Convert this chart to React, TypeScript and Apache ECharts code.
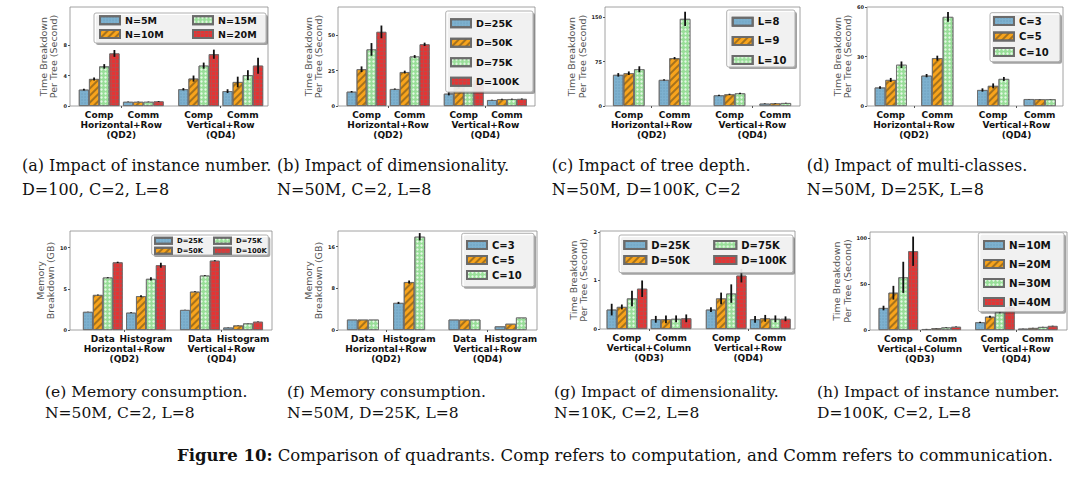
import React, { useEffect, useRef } from "react";
import * as echarts from "echarts";

// ---------------- data ----------------
const BAR_FRAC = 0.23;
const POS4 = [0, 1, 2.25, 3.25];
const POS3 = [0, 1, 2.2, 3.2];

const TIME_NAME = "Time Breakdown\nPer Tree (Second)";
const MEM_NAME = "Memory\nBreakdown (GB)";
const SUB_COMP = ["Comp", "Comm"];
const SUB_DATA = ["Data", "Histogram"];
const GROUPS_HV = ["Horizontal+Row\n(QD2)", "Vertical+Row\n(QD4)"];
const GROUPS_VV = ["Vertical+Column\n(QD3)", "Vertical+Row\n(QD4)"];

// (a)
const A_NAMES = ["N=5M", "N=10M", "N=15M", "N=20M"];
const A_VALUES = [[2.15, 0.55, 2.2, 1.95], [3.55, 0.55, 3.6, 3.15], [5.2, 0.55, 5.3, 4.05], [6.9, 0.6, 6.8, 5.3]];
const A_ERRORS = [[0.12, 0.03, 0.15, 0.25], [0.2, 0.03, 0.4, 0.7], [0.3, 0.03, 0.4, 0.65], [0.45, 0.05, 0.6, 1.05]];
const A_TICKS = [0, 4, 8];
const A_CAPTION = "(a) Impact of instance number.\nD=100, C=2, L=8";
// (b)
const B_NAMES = ["D=25K", "D=50K", "D=75K", "D=100K"];
const B_VALUES = [[10.1, 12, 8.7, 4.2], [26, 24, 13.2, 4.8], [40, 35, 15.6, 4.9], [52.4, 43.6, 18.2, 5.0]];
const B_ERRORS = [[0.5, 0.4, 1.2, 0.2], [2, 1, 1, 0.3], [4.5, 1, 1.5, 0.3], [4.5, 1.2, 1.5, 0.3]];
const B_TICKS = [0, 25, 50];
const B_CAPTION = "(b) Impact of dimensionality.\nN=50M, C=2, L=8";
// (c)
const C_NAMES = ["L=8", "L=9", "L=10"];
const C_VALUES = [[52.5, 44, 18, 4], [55.3, 80.6, 19.7, 4.5], [62, 147, 21.4, 5]];
const C_ERRORS = [[3, 1, 1, 0.5], [3, 2, 1, 0.5], [5, 12, 1, 0.5]];
const C_TICKS = [0, 75, 150];
const C_CAPTION = "(c) Impact of tree depth.\nN=50M, D=100K, C=2";
// (d)
const D_NAMES = ["C=3", "C=5", "C=10"];
const D_VALUES = [[11.2, 18.4, 9.7, 4.2], [15.8, 29, 12.2, 4.1], [25, 54, 16.4, 4.1]];
const D_ERRORS = [[0.8, 1, 1, 0.1], [1.2, 1.5, 1.5, 0.1], [2, 3, 1.2, 0.1]];
const D_TICKS = [0, 30, 60];
const D_CAPTION = "(d) Impact of multi-classes.\nN=50M, D=25K, L=8";
// (e)
const E_NAMES = ["D=25K", "D=50K", "D=75K", "D=100K"];
const E_VALUES = [[2.2, 2.1, 2.43, 0.3], [4.25, 4.1, 4.65, 0.55], [6.36, 6.2, 6.6, 0.8], [8.2, 7.85, 8.4, 1.0]];
const E_ERRORS = [[0.02, 0.05, 0.02, 0.02], [0.05, 0.12, 0.05, 0.02], [0.05, 0.2, 0.05, 0.02], [0.08, 0.3, 0.06, 0.02]];
const E_TICKS = [0, 5, 10];
const E_CAPTION = "(e) Memory consumption.\nN=50M, C=2, L=8";
// (f)
const F_NAMES = ["C=3", "C=5", "C=10"];
const F_VALUES = [[2.0, 5.2, 2.0, 0.7], [2.0, 9.2, 2.0, 1.2], [2.0, 17.9, 2.0, 2.4]];
const F_ERRORS = [[0, 0.2, 0, 0], [0, 0.3, 0, 0], [0, 0.7, 0, 0]];
const F_TICKS = [0, 8, 16];
const F_CAPTION = "(f) Memory consumption.\nN=50M, D=25K, L=8";
// (g)
const G_NAMES = ["D=25K", "D=50K", "D=75K", "D=100K"];
const G_VALUES = [[0.4, 0.2, 0.4, 0.2], [0.455, 0.2, 0.63, 0.22], [0.63, 0.21, 0.73, 0.21], [0.83, 0.22, 1.1, 0.21]];
const G_ERRORS = [[0.12, 0.07, 0.05, 0.07], [0.05, 0.08, 0.12, 0.07], [0.16, 0.07, 0.19, 0.07], [0.17, 0.08, 0.14, 0.05]];
const G_TICKS = [0, 1, 2];
const G_CAPTION = "(g) Impact of dimensionality.\nN=10K, C=2, L=8";
// (h)
const H_NAMES = ["N=10M", "N=20M", "N=30M", "N=40M"];
const H_VALUES = [[24, 1, 8.4, 1.5], [40.7, 2, 14.5, 2.2], [57.5, 2.8, 19.6, 3.3], [86, 3.5, 24.7, 4.4]];
const H_ERRORS = [[2.5, 0.2, 0.7, 0.2], [7.5, 0.2, 1, 0.2], [17, 0.3, 1.3, 0.2], [16, 0.3, 1.5, 0.3]];
const H_TICKS = [0, 50, 100];
const H_CAPTION = "(h) Impact of instance number.\nD=100K, C=2, L=8";

const FIG_CAPTION = "{b|Figure 10:} Comparison of quadrants. Comp refers to computation, and Comm refers to communication.";

// ---------------- layout / styles ----------------
const PANELS: any[] = [
  { key: "a", names: A_NAMES, values: A_VALUES, errors: A_ERRORS, ticks: A_TICKS, pos: POS4, sub: SUB_COMP, groups: GROUPS_HV, yName: TIME_NAME, caption: A_CAPTION,
    L: { grid: [70, 7, 198, 99], xMin: -0.66, xMax: 3.82, yMax: 13, cap: [22, 0],
      lg: { cols: [[0, 1], [2, 3]], lefts: [99, 192], row1: 20.3, sp: 13.7, font: 9.5, lh: 11, iw: 20, ih: 8, box: [94, 13, 266, 43] } } },
  { key: "b", names: B_NAMES, values: B_VALUES, errors: B_ERRORS, ticks: B_TICKS, pos: POS4, sub: SUB_COMP, groups: GROUPS_HV, yName: TIME_NAME, caption: B_CAPTION,
    L: { grid: [338, 7, 197, 99], xMin: -0.66, xMax: 3.9, yMax: 70, cap: [277, 0],
      lg: { cols: [[0, 1, 2, 3]], lefts: [450], row1: 23.3, sp: 19.5, font: 9.5, lh: 12, iw: 20, ih: 8, box: [445.7, 11, 533, 92] } } },
  { key: "c", names: C_NAMES, values: C_VALUES, errors: C_ERRORS, ticks: C_TICKS, pos: POS3, sub: SUB_COMP, groups: GROUPS_HV, yName: TIME_NAME, caption: C_CAPTION,
    L: { grid: [605, 7, 195, 99], xMin: -0.52, xMax: 3.74, yMax: 167, cap: [551.7, 0],
      lg: { cols: [[0, 1, 2]], lefts: [731.7], row1: 21.7, sp: 19.2, font: 10, lh: 12, iw: 20, ih: 8, box: [726.7, 10, 795, 67] } } },
  { key: "d", names: D_NAMES, values: D_VALUES, errors: D_ERRORS, ticks: D_TICKS, pos: POS3, sub: SUB_COMP, groups: GROUPS_HV, yName: TIME_NAME, caption: D_CAPTION,
    L: { grid: [867, 7, 196, 99], xMin: -0.51, xMax: 3.7, yMax: 60, cap: [806.7, 0],
      lg: { cols: [[0, 1, 2]], lefts: [993], row1: 21, sp: 15.5, font: 10, lh: 12, iw: 20, ih: 8, box: [990, 12.7, 1060, 61.7] } } },
  { key: "e", names: E_NAMES, values: E_VALUES, errors: E_ERRORS, ticks: E_TICKS, pos: POS4, sub: SUB_DATA, groups: GROUPS_HV, yName: MEM_NAME, caption: E_CAPTION,
    L: { grid: [70, 231, 202, 99], xMin: -0.76, xMax: 3.92, yMax: 12, cap: [45, 1],
      lg: { cols: [[0, 1], [2, 3]], lefts: [154, 213], row1: 240.7, sp: 10, font: 6.8, lh: 8, iw: 17, ih: 6, box: [151.7, 235, 268.3, 255] } } },
  { key: "f", names: F_NAMES, values: F_VALUES, errors: F_ERRORS, ticks: F_TICKS, pos: POS3, sub: SUB_DATA, groups: GROUPS_HV, yName: MEM_NAME, caption: F_CAPTION,
    L: { grid: [338, 231, 199, 99], xMin: -0.54, xMax: 3.77, yMax: 19, cap: [287, 1],
      lg: { cols: [[0, 1, 2]], lefts: [466], row1: 245, sp: 15, font: 10, lh: 12, iw: 20, ih: 8, box: [461.7, 233.3, 534, 286.7] } } },
  { key: "g", names: G_NAMES, values: G_VALUES, errors: G_ERRORS, ticks: G_TICKS, pos: POS4, sub: SUB_COMP, groups: GROUPS_VV, yName: TIME_NAME, caption: G_CAPTION,
    L: { grid: [600, 231, 195, 98], xMin: -0.61, xMax: 3.81, yMax: 2.02, cap: [554, 1],
      lg: { cols: [[0, 1], [2, 3]], lefts: [623.3, 713.3], row1: 245, sp: 15, font: 10, lh: 12, iw: 22, ih: 8, box: [619, 235, 793, 272.7] } } },
  { key: "h", names: H_NAMES, values: H_VALUES, errors: H_ERRORS, ticks: H_TICKS, pos: POS4, sub: SUB_COMP, groups: GROUPS_VV, yName: TIME_NAME, caption: H_CAPTION,
    L: { grid: [870, 232, 197, 98], xMin: -0.66, xMax: 3.93, yMax: 107, cap: [817, 1],
      lg: { cols: [[0, 1, 2, 3]], lefts: [983], row1: 245, sp: 19, font: 10.3, lh: 12, iw: 20, ih: 8, box: [978.3, 232.7, 1064, 311.7] } } },
];

const CAPTION_ROWS = [{ top: 153.8, lh: 23.5, font: 16 }, { top: 381, lh: 21, font: 15.5 }];

const SERIES_STYLES = [
  { color: "#7db1cf", decal: { symbol: "circle", symbolSize: 0.6, dashArrayX: [2, 1], dashArrayY: [2, 1], color: "rgba(40,80,110,0.25)" } },
  { color: "#f8a41c", decal: { symbol: "rect", symbolSize: 1, dashArrayX: [1, 0], dashArrayY: [2, 3], rotation: -Math.PI / 4, color: "rgba(110,80,30,0.6)" } },
  { color: "#98de98", decal: { symbol: "circle", symbolSize: 0.8, dashArrayX: [3, 1], dashArrayY: [3, 1], color: "rgba(255,255,255,0.75)" } },
  { color: "#c04848", decal: { symbol: "rect", symbolSize: 1, dashArrayX: [3, 1], dashArrayY: [3, 1], color: "#e43434" } },
];

const SANS = "DejaVu Sans";
const SERIF = "DejaVu Serif";

function buildOption() {
  const option: any = {
    animation: false,
    backgroundColor: "#ffffff",
    grid: [], xAxis: [], yAxis: [], series: [], legend: [], title: [], graphic: [],
  };
  PANELS.forEach((p, i) => {
    const L = p.L;
    option.grid.push({ left: L.grid[0], top: L.grid[1], width: L.grid[2], height: L.grid[3], show: true, borderColor: "#8a8a8a", borderWidth: 0.8 });

    const labelVals: number[] = [];
    const labelTexts: string[] = [];
    p.pos.forEach((pos: number, g: number) => { labelVals.push(pos); labelTexts.push(p.sub[g % 2]); });
    const mids = [(p.pos[0] + p.pos[1]) / 2, (p.pos[2] + p.pos[3]) / 2];
    mids.forEach((m, k) => { labelVals.push(m); labelTexts.push("\n" + p.groups[k]); });

    option.xAxis.push({
      type: "value", gridIndex: i, min: L.xMin, max: L.xMax,
      axisLine: { show: false, onZero: false }, splitLine: { show: false },
      axisTick: { show: true, customValues: mids, length: 2, lineStyle: { color: "#555" } },
      axisLabel: {
        customValues: labelVals,
        formatter: (v: number) => { const k = labelVals.findIndex((x) => Math.abs(x - v) < 1e-6); return k >= 0 ? labelTexts[k] : ""; },
        fontFamily: SANS, fontWeight: "bold", fontSize: 9, lineHeight: 10, color: "#111", margin: 4,
      },
    });
    option.yAxis.push({
      type: "value", gridIndex: i, min: 0, max: L.yMax,
      name: p.yName, nameLocation: "middle", nameGap: 11,
      nameTextStyle: { fontFamily: SANS, fontSize: 9.5, lineHeight: 10.5, color: "#555" },
      axisLine: { show: false, onZero: false }, splitLine: { show: false },
      axisTick: { show: true, customValues: p.ticks, length: 2, lineStyle: { color: "#555" } },
      axisLabel: { customValues: p.ticks, fontFamily: SANS, fontWeight: "bold", fontSize: 5, color: "#222", margin: 3 },
    });

    const n = p.names.length;
    p.names.forEach((nm: string, s: number) => {
      const st = SERIES_STYLES[s];
      option.series.push({
        type: "bar", name: p.key + "|" + nm, xAxisIndex: i, yAxisIndex: i,
        data: p.pos.map((pos: number, g: number) => [pos, p.values[s][g]]),
        barWidth: BAR_FRAC * 100 + "%", barGap: "0%",
        itemStyle: { color: st.color, decal: st.decal, borderColor: "#6b6b6b", borderWidth: 0.8 },
        emphasis: { disabled: true },
      });
    });
    const errData: number[][] = [];
    p.names.forEach((_nm: string, s: number) => p.pos.forEach((pos: number, g: number) => {
      const e = p.errors[s][g];
      if (!e) return;
      const x = pos + (s - (n - 1) / 2) * BAR_FRAC;
      errData.push([x, p.values[s][g] - e, p.values[s][g] + e]);
    }));
    option.series.push({
      type: "custom", xAxisIndex: i, yAxisIndex: i, data: errData, encode: { x: 0, y: [1, 2] }, silent: true, z: 3,
      renderItem: (_params: any, api: any) => {
        const a = api.coord([api.value(0), api.value(1)]);
        const b = api.coord([api.value(0), api.value(2)]);
        return { type: "line", shape: { x1: a[0], y1: a[1], x2: b[0], y2: b[1] }, style: { stroke: "#111", lineWidth: 1.8 } };
      },
    });

    const lg = L.lg;
    lg.cols.forEach((col: number[], c: number) => {
      option.legend.push({
        orient: "vertical", left: lg.lefts[c], top: lg.row1 - lg.lh / 2, padding: 0,
        itemGap: lg.sp - lg.lh, itemWidth: lg.iw, itemHeight: lg.ih, icon: "rect",
        data: col.map((s) => p.key + "|" + p.names[s]),
        formatter: (nm: string) => nm.split("|")[1],
        textStyle: { fontFamily: SANS, fontWeight: "bold", fontSize: lg.font, lineHeight: lg.lh, color: "#111" },
        selectedMode: false, z: 20,
      });
    });
    const [bx1, by1, bx2, by2] = lg.box;
    option.graphic.push({ type: "rect", silent: true, z: 10, shape: { x: bx1 + 2, y: by1 + 2, width: bx2 - bx1, height: by2 - by1, r: 2 }, style: { fill: "rgba(70,70,70,0.5)" } });
    option.graphic.push({ type: "rect", silent: true, z: 11, shape: { x: bx1, y: by1, width: bx2 - bx1, height: by2 - by1, r: 2 }, style: { fill: "rgba(255,255,255,0.85)", stroke: "#b0b0b0", lineWidth: 1 } });

    const row = CAPTION_ROWS[L.cap[1]];
    option.title.push({
      left: L.cap[0], top: row.top, padding: 0, text: p.caption,
      textStyle: { fontFamily: SERIF, fontSize: row.font, fontWeight: "normal", lineHeight: row.lh, color: "#111" },
    });
  });
  option.title.push({
    left: 177, top: 445, padding: 0, text: FIG_CAPTION,
    textStyle: { fontFamily: SERIF, fontSize: 16.5, fontWeight: "normal", lineHeight: 21, color: "#111",
      rich: { b: { fontFamily: SERIF, fontSize: 16.5, fontWeight: "bold", color: "#111" } } },
  });
  return option;
}

export default function App() {
  const ref = useRef<HTMLDivElement>(null);
  useEffect(() => {
    if (!ref.current) return;
    const chart = echarts.init(ref.current, undefined, { renderer: "svg" });
    chart.setOption(buildOption());
    return () => chart.dispose();
  }, []);
  return <div ref={ref} style={{ position: "fixed", left: 0, top: 0, width: 1080, height: 483, background: "#fff" }} />;
}
